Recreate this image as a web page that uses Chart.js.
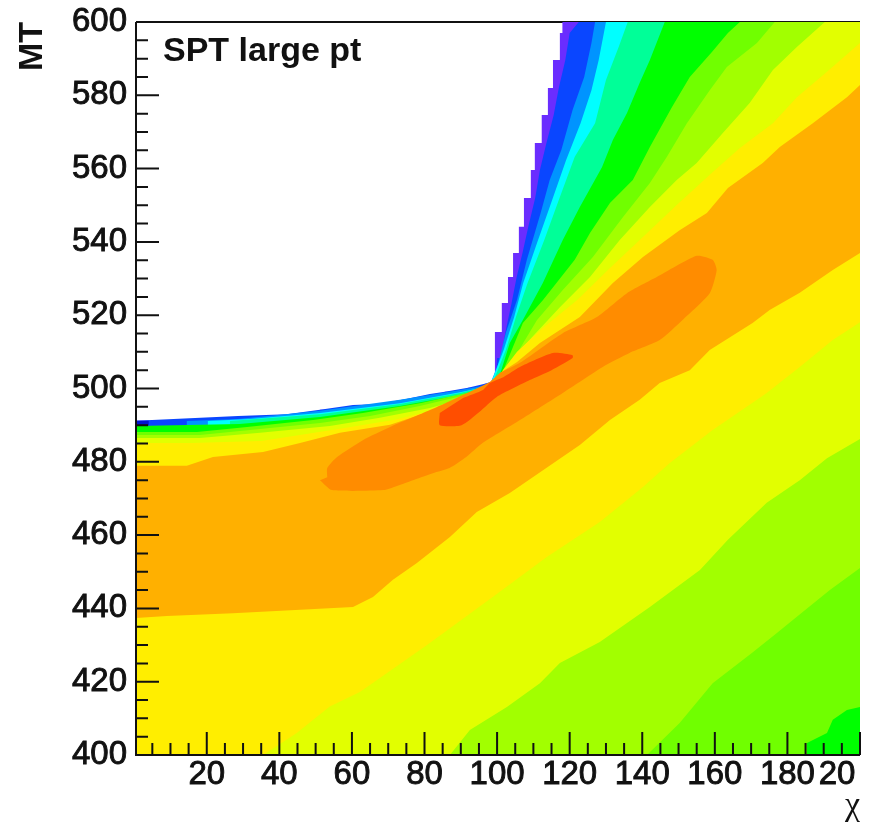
<!DOCTYPE html>
<html>
<head>
<meta charset="utf-8">
<title>SPT large pt</title>
<script src="https://cdn.jsdelivr.net/npm/chart.js@4"></script>
<style>
  html, body { margin: 0; padding: 0; background: #fff; }
  canvas { display: block; filter: blur(0.5px); }
</style>
</head>
<body>
<canvas id="chart" width="879" height="826"></canvas>
<script>
// x axis is chi, y axis is MT. every contour below is [chi, MT]
const xTicks = [20, 40, 60, 80, 100, 120, 140, 160, 180, 200];
const xMinor = [5, 10, 15, 25, 30, 35, 45, 50, 55, 65, 70, 75, 85, 90, 95, 105, 110, 115, 125, 130, 135, 145, 150, 155, 165, 170, 175, 185, 190, 195];
const yTicks = [400, 420, 440, 460, 480, 500, 520, 540, 560, 580, 600];
const yMinor = [405, 410, 415, 425, 430, 435, 445, 450, 455, 465, 470, 475, 485, 490, 495, 505, 510, 515, 525, 530, 535, 545, 550, 555, 565, 570, 575, 585, 590, 595];

// upper edge of each band left of the kink at chi = 100
const purpleLeft = [[0.5, 491.2], [28.6, 491.2], [42, 492.5], [51.2, 493], [60.3, 494.2], [67.2, 495.5], [74.6, 495.8], [81.5, 497.1], [85.6, 498.5], [92, 499.1], [96.6, 500.2], [99.4, 501.3]];
const blueLeft = [[0.5, 491.2], [28.6, 492.5], [42, 493], [51.2, 494.2], [60.3, 495.5], [67.2, 495.8], [74.6, 497.1], [81.5, 498.5], [85.6, 499.1], [92, 500.2], [96.6, 501.3], [99.6, 502.2]];
const lightBlueLeft = [[0.5, 489.8], [14.5, 489.8], [14.5, 491.1], [28.6, 491.7], [51.2, 493.9], [73.2, 496.9], [89.8, 499.6], [98, 501]];
const cyanLeft = [[0.5, 489.8], [20.3, 489.8], [20.3, 491.1], [31.9, 491.7], [51.2, 493.3], [73.2, 496], [89.8, 499], [98, 500.7]];
const springLeft = [[0.5, 489.8], [26.4, 489.8], [26.4, 491.1], [51.2, 493], [73.2, 495.8], [89.8, 498.8], [98.6, 501]];
const greenLeft = [[0.5, 489.8], [29, 490.3], [51.2, 492.2], [73.2, 495.2], [89.8, 498.2], [98.6, 500.7]];
const lawnLeft = [[0.5, 488.1], [17.3, 488.1], [31.1, 489.5], [49.3, 491.4], [63, 493.3], [78.7, 496], [92.5, 499], [99.1, 500.7]];
const limeLeft = [[0.5, 487.3], [18.1, 487.3], [31.9, 488.7], [51.2, 490.6], [65, 492.5], [78.7, 495.2], [92.5, 498.5], [99.1, 500.4]];
const paleLeft = [[0.5, 486.5], [18.1, 486.5], [34.7, 487.9], [53.9, 489.8], [67.7, 492], [81.5, 494.7], [93.9, 498], [99.4, 500.1]];
const yellowLeft = [[0.5, 485.1], [15.4, 485.1], [35, 485.7], [56.7, 489], [71.8, 491.5], [84.2, 494.5], [95.3, 497.4], [99.4, 499.9]];
const orangeLeft = [[0.5, 478.9], [14.5, 478.9], [21.7, 481.3], [35.5, 482.7], [45.7, 485.1], [56.7, 487.9], [70.5, 490.1], [81.5, 493.7], [90.6, 497.7], [98, 500.4]];

// edge of each band on the steep side, from the kink up to the top or right frame
const purpleWedge = [[99.4, 508.3], [101.3, 515.4], [103, 523.3], [104.4, 530.4], [106, 537], [107.4, 544.1], [109.3, 552], [110.4, 559.6], [112.3, 567], [114, 574.6], [115.4, 582], [117.3, 589.6], [118, 597], [121.4, 600]];
const blueWedge = [[100, 508.3], [101, 508.3], [102.3, 515.4], [104, 523.3], [105.4, 530.4], [107, 537], [108.6, 544.1], [110.5, 552], [111.8, 559.6], [113.6, 567], [115.6, 574.6], [117, 582], [118.8, 589.6], [120, 597], [122.5, 600]];
const lightBlueWedge = [[100.2, 506.4], [102.4, 515.2], [105.5, 524.2], [108.2, 535.1], [112, 547.9], [114.5, 556.9], [117.7, 565.1], [120.8, 576], [124, 585], [126, 594.3], [127, 600]];
const cyanWedge = [[101.8, 510.5], [104.7, 519.5], [107.2, 528.8], [111, 539.7], [114.5, 549.5], [119, 562.3], [123, 572.4], [126, 581.4], [128, 589.6], [130, 600]];
const springWedge = [[102.4, 510.5], [105.2, 519.5], [108.4, 528.8], [113, 540.5], [117, 551.4], [121.4, 563.2], [127, 572.4], [130, 584.2], [133.5, 593.2], [136, 600]];
const greenWedge = [[101, 504.5], [103.5, 512.4], [107.1, 518.7], [112.6, 528.8], [118.1, 540.5], [122.8, 549.5], [128.9, 560.4], [131.9, 567.8], [135.8, 575.2], [139.3, 583.4], [142.1, 589.6], [146.2, 600]];
const lawnWedge = [[102.1, 505.9], [107.1, 517.9], [112.6, 524.1], [121.4, 535.1], [125.6, 542.4], [131.1, 550.6], [137.4, 556.9], [142.1, 565.9], [148.2, 576.8], [153.1, 585], [159.2, 591.8], [163.6, 597], [166.9, 600]];
const limeWedge = [[104.4, 507.8], [111, 518.7], [118.1, 526.9], [126.4, 535.9], [134.7, 546.8], [142.1, 556.1], [146.8, 563.2], [152.3, 572.4], [158.6, 581.4], [163.3, 587.7], [171.6, 594.3], [176.5, 600]];
const paleWedge = [[102.1, 504.5], [107.1, 511.3], [117.3, 522.2], [125.6, 530.4], [133.8, 540.5], [142.1, 549.5], [149.5, 556.9], [155, 561.5], [162.2, 569.7], [169.6, 577.9], [176, 586.9], [182.6, 593.2], [190.3, 600]];
const yellowWedge = [[101.6, 505], [105.5, 510], [112.6, 516.5], [122, 524.1], [131.1, 532.9], [139.3, 540.5], [149.5, 550.1], [158.6, 558.3], [166.9, 565.6], [176, 572.4], [182.6, 579.5], [190.9, 586.4], [200, 594.3]];
const orangeWedge = [[100.8, 504.2], [105.5, 507.2], [111.8, 512.4], [122.8, 519.5], [131.9, 528.8], [140.2, 535.9], [150.3, 543.2], [157.8, 547.9], [163.6, 554.7], [173.2, 561.5], [177.9, 565.9], [187, 572.4], [196.4, 579.5], [200, 582.8]];

// lower edge of each band, from the right frame down to the bottom or left frame
const lawnLower = [[200, 413.1], [196.4, 412.3], [192.5, 409.6], [190.9, 406], [185.4, 403.3], [185.4, 400]];
const limeLower = [[200, 451], [191.7, 445], [182.6, 437.7], [177.1, 433.3], [170.2, 427.8], [159.4, 419.6], [150.3, 408.7], [141.3, 400]];
const paleLower = [[200, 486.2], [190.9, 481], [183.4, 475], [174.3, 468.8], [163.6, 458.7], [155.9, 450.5], [142.1, 440.4], [128.3, 430.8], [117.3, 425.1], [111.8, 419.6], [102.7, 413.1], [92.5, 406.8], [87, 400]];
const yellowLower = [[200, 518.1], [192.5, 513.2], [183.4, 505.9], [174.3, 498.8], [171.6, 496.9], [159.4, 488.7], [147.6, 479.7], [140.2, 473.1], [128.3, 463.6], [113.7, 454], [98.8, 443.1], [80.7, 430], [62.2, 417.2], [53.9, 413.2], [44.8, 406], [35.5, 400]];
const orangeLower = [[200, 537], [192.5, 532.3], [183.4, 526.1], [175.1, 521.4], [170.4, 517.9], [158.6, 510.5], [153.1, 505], [144.8, 501.5], [139.3, 496.9], [131.1, 491.4], [122.8, 484.6], [103.5, 471.5], [94.4, 466.3], [87, 459.5], [77.9, 452.4], [71.3, 447.8], [65.8, 443.1], [60.3, 440.4], [27.2, 438.7], [9, 437.9], [0.5, 437.4]];

// closed blobs around the maximum
const darkOrangeBlob = [[51.2, 475], [54.5, 472.3], [68.6, 472.3], [73.2, 473.7], [82.3, 476.9], [86.9, 478.3], [91.5, 481.3], [96, 485.1], [106.3, 491.4], [118.1, 498.8], [129.1, 505.9], [136.5, 509.7], [144.8, 513.2], [151.1, 518.7], [158.6, 526], [160.5, 532.3], [159.4, 535.1], [155, 536.2], [144, 530.4], [135.8, 526], [127.5, 519.5], [118.1, 515.1], [106.3, 507], [100.8, 504.2], [98, 501.8], [81.5, 494.1], [70.5, 489.5], [63, 485.9], [55.9, 481.3], [53.2, 478.3], [53.2, 475.8]];
const redOrangeBlob = [[84.2, 493.3], [84.2, 490], [90.2, 490], [95.1, 493.6], [99.9, 497.7], [109, 502.3], [115, 505], [120.8, 508.3], [120.8, 509.1], [115.4, 509.7], [106.3, 505.9], [101.7, 503.1], [98, 501.5], [96.1, 499.6], [90.6, 497.4]];
const darkBlueCell = [[0.5, 489.9], [4, 489.9], [4, 491.2], [0.5, 491.2]];

const contourColors = ['#6a2dff', '#0a46ff', '#0094ff', '#00ffff', '#00ff98', '#00ff00', '#70ff00', '#a2ff00', '#e2ff00', '#ffee00', '#ffb000', '#ff8c00', '#ff4e00', '#0016d0'];

const topRight = [[200, 600]];
const allDown = [[200, 600], [200, 400], [0.5, 400]];

// painted from the outside in, each band sits on top of the one before
const contours = [
  [...purpleLeft, ...purpleWedge, ...allDown],
  [...blueLeft, ...blueWedge, ...allDown],
  [...lightBlueLeft, ...lightBlueWedge, ...allDown],
  [...cyanLeft, ...cyanWedge, ...allDown],
  [...springLeft, ...springWedge, ...allDown],
  [...greenLeft, ...greenWedge, ...allDown],
  [...lawnLeft, ...lawnWedge, ...topRight, ...lawnLower, [0.5, 400]],
  [...limeLeft, ...limeWedge, ...topRight, ...limeLower, [0.5, 400]],
  [...paleLeft, ...paleWedge, ...topRight, ...paleLower, [0.5, 400]],
  [...yellowLeft, ...yellowWedge, ...yellowLower, [0.5, 400]],
  [...orangeLeft, ...orangeWedge, ...orangeLower],
  darkOrangeBlob,
  redOrangeBlob,
  darkBlueCell,
];

const frame = {
  id: 'frame',
  beforeDatasetsDraw(chart) {
    // top line goes under the colours
    const { ctx, chartArea } = chart;
    ctx.save();
    ctx.strokeStyle = '#111';
    ctx.lineWidth = 2;
    ctx.beginPath();
    ctx.moveTo(chartArea.left, chartArea.top);
    ctx.lineTo(chartArea.right, chartArea.top);
    ctx.stroke();
    ctx.restore();
  },
  afterDatasetsDraw(chart) {
    const { ctx, chartArea, scales } = chart;
    const { left, right, top, bottom } = chartArea;
    ctx.save();
    ctx.strokeStyle = '#111';
    ctx.lineWidth = 2;
    ctx.beginPath();
    ctx.moveTo(left, top);
    ctx.lineTo(left, bottom);
    ctx.lineTo(right, bottom);
    xTicks.forEach((v) => { const p = scales.x.getPixelForValue(v); ctx.moveTo(p, bottom); ctx.lineTo(p, bottom - 23); });
    xMinor.forEach((v) => { const p = scales.x.getPixelForValue(v); ctx.moveTo(p, bottom); ctx.lineTo(p, bottom - 12); });
    yTicks.forEach((v) => { const p = scales.y.getPixelForValue(v); ctx.moveTo(left, p); ctx.lineTo(left + 23, p); });
    yMinor.forEach((v) => { const p = scales.y.getPixelForValue(v); ctx.moveTo(left, p); ctx.lineTo(left + 12, p); });
    ctx.stroke();
    ctx.fillStyle = '#111';
    ctx.font = 'bold 34px "Liberation Sans"';
    ctx.textBaseline = 'alphabetic';
    ctx.fillText('SPT large pt', left + 27, top + 39);
    ctx.restore();
  },
};

new Chart(document.getElementById('chart'), {
  type: 'scatter',
  data: {
    datasets: contours.map((pts, i) => ({
      data: pts.map(([x, y]) => ({ x, y })),
      showLine: true,
      fill: 'shape',
      backgroundColor: contourColors[i],
      borderWidth: 0,
      pointRadius: 0,
      // the outer edge is blocky in the original, the blobs are round
      stepped: i === 0 ? 'after' : false,
      tension: i === 11 || i === 12 ? 0.2 : 0,
      order: contours.length - i,
    })),
  },
  plugins: [frame],
  options: {
    responsive: false,
    animation: false,
    events: [],
    layout: { padding: { top: 22, right: 19 } },
    plugins: { legend: { display: false }, tooltip: { enabled: false } },
    scales: {
      x: {
        type: 'linear',
        min: 0.5,
        max: 200,
        grid: { display: false, drawTicks: false },
        border: { display: false },
        afterBuildTicks: (axis) => { axis.ticks = xTicks.map((value) => ({ value })); },
        afterFit: (axis) => { axis.height = 71; axis.paddingLeft = 0; axis.paddingRight = 0; },
        ticks: {
          autoSkip: false,
          maxRotation: 0,
          padding: 0,
          color: '#111',
          textStrokeColor: '#111',
          textStrokeWidth: 0.9,
          font: { family: 'Liberation Sans', size: 33 },
          // last label is cut off by the page edge in the original
          callback: (v) => (v === 200 ? '20\u00a0\u00a0\u00a0\u00a0\u00a0' : String(v)),
        },
        title: {
          display: true,
          text: 'χ',
          align: 'end',
          color: '#111',
          padding: { top: 0, bottom: 0 },
          font: { family: 'Liberation Serif', size: 34 },
        },
      },
      y: {
        type: 'linear',
        min: 400,
        max: 600,
        grid: { display: false, drawTicks: false },
        border: { display: false },
        afterBuildTicks: (axis) => { axis.ticks = yTicks.map((value) => ({ value })); },
        afterFit: (axis) => { axis.width = 136; axis.paddingTop = 0; axis.paddingBottom = 0; },
        ticks: {
          autoSkip: false,
          padding: 9,
          color: '#111',
          textStrokeColor: '#111',
          textStrokeWidth: 0.9,
          font: { family: 'Liberation Sans', size: 33 },
        },
        title: {
          display: true,
          text: 'MT',
          align: 'end',
          color: '#111',
          padding: { top: 12, bottom: 0 },
          font: { family: 'Liberation Sans', size: 34, weight: 'bold' },
        },
      },
    },
  },
});
</script>
</body>
</html>
